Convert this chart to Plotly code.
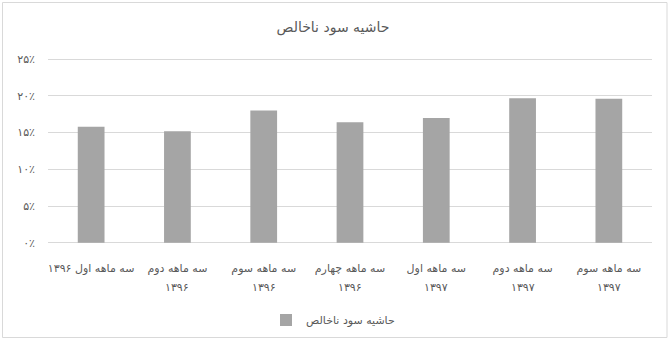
import plotly.graph_objects as go

categories = ["Q1-96", "Q2-96", "Q3-96", "Q4-96", "Q1-97", "Q2-97", "Q3-97"]
label_line1 = [
    "سه ماهه اول ۱۳۹۶",
    "سه ماهه دوم",
    "سه ماهه سوم",
    "سه ماهه چهارم",
    "سه ماهه اول",
    "سه ماهه دوم",
    "سه ماهه سوم",
]
label_line2 = ["", "۱۳۹۶", "۱۳۹۶", "۱۳۹۶", "۱۳۹۷", "۱۳۹۷", "۱۳۹۷"]
values = [0.158, 0.152, 0.180, 0.164, 0.170, 0.197, 0.196]
series_name = "حاشیه سود ناخالص"
title_text = "حاشیه سود ناخالص"
tick_vals = [0, 0.05, 0.10, 0.15, 0.20, 0.25]
tick_text = ["۰٪", "۵٪", "۱۰٪", "۱۵٪", "۲۰٪", "۲۵٪"]

FONT = "DejaVu Sans"
GREY = "#595959"

fig = go.Figure()
fig.add_trace(go.Bar(
    x=categories, y=values, name=series_name,
    marker=dict(color="#A5A5A5", line=dict(width=0)),
    showlegend=True,
))

W, H = 672, 346
ml, mr, mt, mb = 48, 20, 57, 101
pw, ph = W - ml - mr, H - mt - mb

eps = 0.003
y_lo, y_hi = -eps, 0.25 + eps

def px(x):
    return (x - ml) / pw

def py(y):
    return (H - mb - y) / ph

annotations = [
    dict(x=c, y=py(287), xref="x", yref="paper", text=t, showarrow=False,
         xanchor="center", yanchor="middle",
         font=dict(family=FONT, size=11, color=GREY))
    for c, t in zip(categories, label_line2) if t
]

fig.update_layout(
    width=W, height=H,
    margin=dict(l=ml, r=mr, t=mt, b=mb),
    paper_bgcolor="white", plot_bgcolor="white",
    font=dict(family=FONT, color=GREY, size=11),
    title=dict(text=title_text, x=333 / W, xanchor="center",
               y=1 - 27 / H, yanchor="middle",
               font=dict(family=FONT, size=14, color=GREY)),
    bargap=0.69,
    xaxis=dict(showgrid=False, showline=False, ticks="", zeroline=False,
               tickvals=categories, ticktext=label_line1,
               tickfont=dict(size=11, color=GREY), automargin=False,
               ticklabelstandoff=15),
    yaxis=dict(range=[y_lo, y_hi], tickvals=tick_vals, ticktext=tick_text,
               showgrid=True, gridcolor="#D9D9D9", gridwidth=1,
               zeroline=False, showline=False, ticks="",
               tickfont=dict(size=11, color=GREY), automargin=False,
               ticklabelstandoff=12),
    legend=dict(orientation="h", x=px(333), xanchor="center",
                y=py(320), yanchor="middle",
                font=dict(size=11, color=GREY),
                itemwidth=30),
    annotations=annotations,
    shapes=[dict(type="rect", xref="paper", yref="paper",
                 x0=px(2.5), x1=px(667), y0=py(337.5), y1=py(2.5),
                 line=dict(color="#D9D9D9", width=1), layer="below")],
)

fig.write_html("out.html")
